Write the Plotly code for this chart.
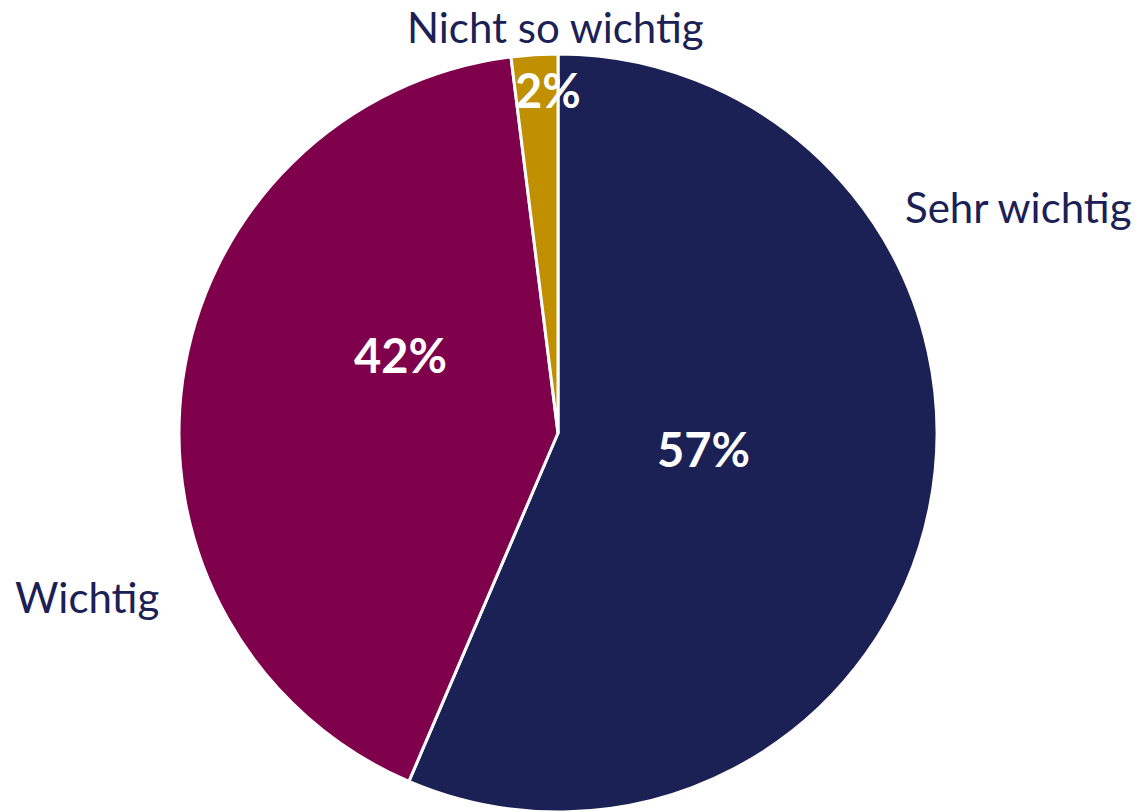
import plotly.graph_objects as go

labels = ["Sehr wichtig", "Wichtig", "Nicht so wichtig"]
values = [57, 42, 2]
colors = ["#1B2155", "#7F004B", "#C09000"]

W, H = 1140, 812

fig = go.Figure(go.Pie(
    labels=labels, values=values, sort=False, direction="clockwise", rotation=0,
    marker=dict(colors=colors, line=dict(color="white", width=3)),
    textinfo="none", hoverinfo="label+percent", showlegend=False,
    domain=dict(x=[178 / W, 938 / W], y=[0, 758 / H]),
))

def px(x, y):
    return x / W, 1 - y / H

font_name = "Lato"
# outside category labels (pixel anchor positions)
out_pos = {"Sehr wichtig": (1018, 207), "Wichtig": (87, 597), "Nicht so wichtig": (555, 27)}
for lab in labels:
    x, y = px(*out_pos[lab])
    fig.add_annotation(x=x, y=y, xref="paper", yref="paper", text=lab, showarrow=False,
                       font=dict(family=font_name, size=42, color="#1B2155"),
                       xanchor="center", yanchor="middle")

# inside percentage labels
in_pos = {"Sehr wichtig": (703, 449), "Wichtig": (400, 355), "Nicht so wichtig": (548, 90)}
for lab, v in zip(labels, values):
    x, y = px(*in_pos[lab])
    fig.add_annotation(x=x, y=y, xref="paper", yref="paper", text=f"<b>{v}%</b>", showarrow=False,
                       font=dict(family=font_name, size=47, color="white"),
                       xanchor="center", yanchor="middle")

fig.update_layout(width=W, height=H, margin=dict(l=0, r=0, t=0, b=0),
                  paper_bgcolor="white", plot_bgcolor="white")
fig.write_html("out.html", config={"displayModeBar": False},
               post_script="document.body.style.margin='0';")
